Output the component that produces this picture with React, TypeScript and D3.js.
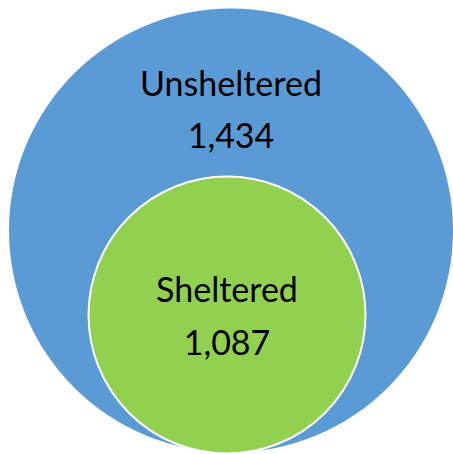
import React, { useEffect, useRef } from 'react';
import * as d3 from 'd3';

// Chart data
const categories = ['Unsheltered', 'Sheltered'];
const values = [1434, 1087];
const colors = ['#5B9BD5', '#92D050'];

const App: React.FC = () => {
  const svgRef = useRef<SVGSVGElement>(null);

  useEffect(() => {
    if (!svgRef.current) return;
    const width = 453;
    const height = 454;

    const svg = d3.select(svgRef.current)
      .attr('width', width)
      .attr('height', height);
    svg.selectAll('*').remove();

    // circle geometry (outer = total, inner = nested subset)
    const layout = [
      { cx: 231, cy: 230.5, r: 222, labelY: 96, valueY: 148 },
      { cx: 227, cy: 315, r: 138.5, labelY: 302, valueY: 355 },
    ];

    const fmt = d3.format(',');
    const rows = categories.map((c, i) => ({ name: c, value: values[i], color: colors[i], ...layout[i] }));

    svg.selectAll('circle')
      .data(rows)
      .join('circle')
      .attr('cx', d => d.cx)
      .attr('cy', d => d.cy)
      .attr('r', d => d.r)
      .attr('fill', d => d.color)
      .attr('stroke', (d, i) => (i === 0 ? 'none' : '#ffffff'))
      .attr('stroke-width', 2);

    const text = svg.append('g')
      .style('font-family', 'Lato, "Open Sans", sans-serif')
      .style('font-size', '34px')
      .attr('fill', '#000000')
      .attr('text-anchor', 'middle');

    text.selectAll('.label')
      .data(rows)
      .join('text')
      .attr('class', 'label')
      .attr('x', d => d.cx)
      .attr('y', d => d.labelY)
      .text(d => d.name);

    text.selectAll('.value')
      .data(rows)
      .join('text')
      .attr('class', 'value')
      .attr('x', d => d.cx)
      .attr('y', d => d.valueY)
      .text(d => fmt(d.value));
  }, []);

  return (
    <svg ref={svgRef} style={{ position: 'absolute', left: 0, top: 0, display: 'block' }}></svg>
  );
};

export default App;
